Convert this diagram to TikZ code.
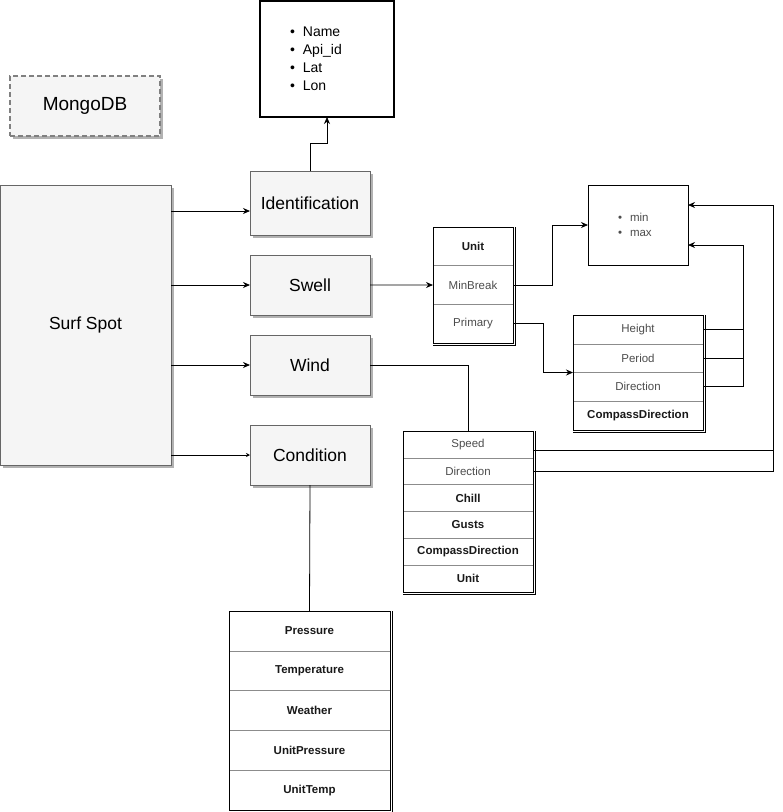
\documentclass[tikz,border=0pt]{standalone}
\usepackage{fontspec}
\setmainfont{Liberation Sans}
\usetikzlibrary{shadows,arrows.meta}

\tikzset{
	entity/.style={draw=black!60, fill=black!4, inner sep=0pt, outer sep=0pt,
		minimum width=120pt, minimum height=60pt, font=\fontsize{17.5}{20}\selectfont,
		general shadow={fill=black!30, shadow xshift=3pt, shadow yshift=-3pt}},
	field/.style={draw=black!45, inner sep=0pt, outer sep=0pt, text=black!70,
		font=\fontsize{11.5}{14}\selectfont},
	key/.style={field, text=black!90, font=\fontsize{11.5}{14}\selectfont\bfseries},
	tableframe/.style={draw=black, line width=0.8pt},
	attrbox/.style={draw=black, inner ysep=0pt, outer sep=0pt, align=left, inner xsep=30pt},
	link/.style={-{Stealth[length=7pt,width=6pt]}, line width=0.8pt},
	plain/.style={line width=0.8pt},
}

\begin{document}
\begin{tikzpicture}[x=1pt,y=-1pt]
	\useasboundingbox (0,0) rectangle (783,812);

	\node[entity, draw=black!50, dashed, dash pattern=on 5pt off 3pt, line width=1.2pt,
		minimum width=150pt, font=\fontsize{19}{22}\selectfont] (mongo) at (85,106) {MongoDB};

	\node[entity, minimum width=171pt, minimum height=280pt] (spot) at (85.5,325) {Surf Spot};
	\node[entity, minimum height=64pt] (ident) at (310,203) {Identification};
	\node[entity] (swell) at (310,285) {Swell};
	\node[entity] (wind) at (310,365) {Wind};
	\node[entity] (cond) at (310,455) {Condition};

	\node[attrbox, line width=1.8pt, text width=74pt, minimum height=116pt,
		font=\fontsize{14}{18}\selectfont] (attr) at (327,59)
		{\textbullet\hspace{8pt}Name\\ \textbullet\hspace{8pt}Api\_id\\
		 \textbullet\hspace{8pt}Lat\\ \textbullet\hspace{8pt}Lon};
	\node[attrbox, line width=0.8pt, text width=40pt, minimum height=80pt,
		font=\fontsize{11.5}{15}\selectfont, text=black!70] (minmax) at (638,225)
		{\textbullet\hspace{8pt}min\\ \textbullet\hspace{8pt}max};

	% swell table
	\foreach \name/\txt/\sty [count=\i] in {su/Unit/key, smb/MinBreak/field, spr/Primary/field}
		\node[\sty, minimum width=80pt, minimum height=38.67pt] (\name) at (473,{227+38.67*(\i-0.5)}) {\txt};
	\draw[tableframe] (433,227) rectangle (513,343);
	\draw[plain] (515,227) -- (515,345) -- (433,345);

	% primary table
	\foreach \name/\txt/\sty [count=\i] in {hgt/Height/field, hper/Period/field, hdir/Direction/field, hcd/CompassDirection/key}
		\node[\sty, minimum width=130pt, minimum height=28.75pt] (\name) at (638,{315+28.75*(\i-0.5)}) {\txt};
	\draw[tableframe] (573,315) rectangle (703,430);
	\draw[plain] (705,315) -- (705,432) -- (573,432);

	% wind table
	\foreach \name/\txt/\sty [count=\i] in {wspd/Speed/field, wdir/Direction/field, wch/Chill/key, wgu/Gusts/key, wcd/CompassDirection/key, wun/Unit/key}
		\node[\sty, minimum width=130pt, minimum height=26.83pt] (\name) at (468,{431+26.83*(\i-0.5)}) {\txt};
	\draw[tableframe] (403,431) rectangle (533,592);
	\draw[plain] (535,431) -- (535,594) -- (403,594);

	% condition table
	\foreach \name/\txt [count=\i] in {cpr/Pressure, ctm/Temperature, cwe/Weather, cup/UnitPressure, cut/UnitTemp}
		\node[key, minimum width=161pt, minimum height=39.8pt] (\name) at (309.5,{611+39.8*(\i-0.5)}) {\txt};
	\draw[tableframe] (229,611) rectangle (390,810);
	\draw[plain] (392,611) -- (392,812) -- (229,812);

	\draw[link] ([yshift=-8pt]ident.west -| spot.east) -- ([yshift=-8pt]ident.west);
	\draw[link] (swell.west -| spot.east) -- (swell.west);
	\draw[link] (wind.west -| spot.east) -- (wind.west);
	\draw[plain, -{Stealth[length=4pt,width=4pt]}] (cond.west -| spot.east) -- (cond.west);
	\draw[link] (ident.north) -- ++(0,-28) -| (attr.south);

	\draw[link] (swell.east) -- (smb.west);
	\draw[link] (smb.east) -- ++(39,0) |- (minmax.west);
	\draw[link] (spr.east) -- ++(30,0) |- (hdir.north west);
	\draw[plain] (hgt.east) -- ++(40,0);
	\draw[plain] (hper.east) -- ++(40,0);
	\draw[link] (hdir.east) -- ++(40,0) |- ([yshift=-20pt]minmax.east);

	\draw[plain] (wind.east) -| (wspd.north);
	\draw[plain] ([yshift=-5.5pt]wspd.east) -- ++(240,0);
	\draw[link] (wdir.east) -- ++(240,0) |- ([yshift=20pt]minmax.east);

	\draw[plain] (cond.south) -- (cpr.north);
\end{tikzpicture}
\end{document}
